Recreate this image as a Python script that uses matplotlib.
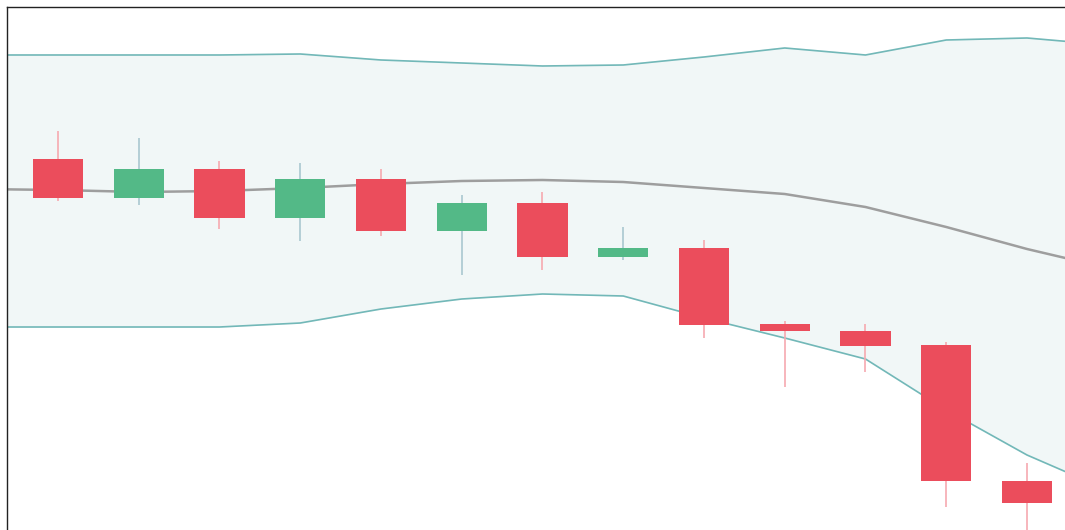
import numpy as np
import matplotlib.pyplot as plt

# candle data (open, high, low, close)
opens  = [44.1, 40.2, 43.1, 38.2, 42.1, 36.9, 39.7, 34.3, 35.2, 27.6, 26.9, 25.5, 11.9]
highs  = [46.9, 46.2, 43.9, 43.7, 43.1, 40.5, 40.8, 37.3, 36.0, 27.9, 27.6, 25.8, 13.7]
lows   = [39.9, 39.5, 37.1, 35.9, 36.4, 32.5, 33.0, 34.0, 26.2, 21.3, 22.8, 9.3, 5.5]
closes = [40.2, 43.1, 38.2, 42.1, 36.9, 39.7, 34.3, 35.2, 27.5, 26.9, 25.4, 11.9, 9.7]

# bollinger bands, index -1 .. 13
band_idx = list(range(-1, 14))
upper  = [54.5, 54.5, 54.5, 54.5, 54.6, 54.0, 53.7, 53.4, 53.5, 54.3, 55.2, 54.5, 56.0, 56.2, 55.5]
middle = [41.1, 41.0, 40.8, 40.9, 41.2, 41.6, 41.9, 42.0, 41.8, 41.2, 40.6, 39.3, 37.3, 35.1, 33.2]
lower  = [27.3, 27.3, 27.3, 27.3, 27.7, 29.1, 30.1, 30.6, 30.4, 28.2, 26.2, 24.1, 19.0, 14.5, 11.0]

UP = '#53b987'
DOWN = '#eb4d5c'
UP_WICK = '#a9c8d0'
DOWN_WICK = '#f6a9b0'
BAND = '#72b8b8'

fig = plt.figure(figsize=(10.65, 5.30), dpi=100)
ax = fig.add_axes([7/1065, 0, 1058/1065, 523/530])

ax.fill_between(band_idx, lower, upper, color='#f1f7f7', zorder=0)
ax.plot(band_idx, upper, color=BAND, lw=1.2, zorder=1)
ax.plot(band_idx, lower, color=BAND, lw=1.2, zorder=1)
ax.plot(band_idx, middle, color='#9e9e9e', lw=1.8, zorder=1)

x = np.arange(len(opens))
for i in x:
    rising = closes[i] >= opens[i]
    body_c = UP if rising else DOWN
    wick_c = UP_WICK if rising else DOWN_WICK
    ax.vlines(i, lows[i], highs[i], color=wick_c, lw=1.2, zorder=2)
    lo, hi = min(opens[i], closes[i]), max(opens[i], closes[i])
    ax.bar(i, hi - lo, bottom=lo, width=0.62, color=body_c, zorder=3)

ax.set_xlim(-51/80.75, (1065-58)/80.75)
ax.set_ylim(7.0, 59.3)
ax.set_xticks([])
ax.set_yticks([])
for s in ['right', 'bottom']:
    ax.spines[s].set_visible(False)
for s in ['left', 'top']:
    ax.spines[s].set_color('#222222')
    ax.spines[s].set_linewidth(1.0)

fig.savefig('out.png', dpi=100)
